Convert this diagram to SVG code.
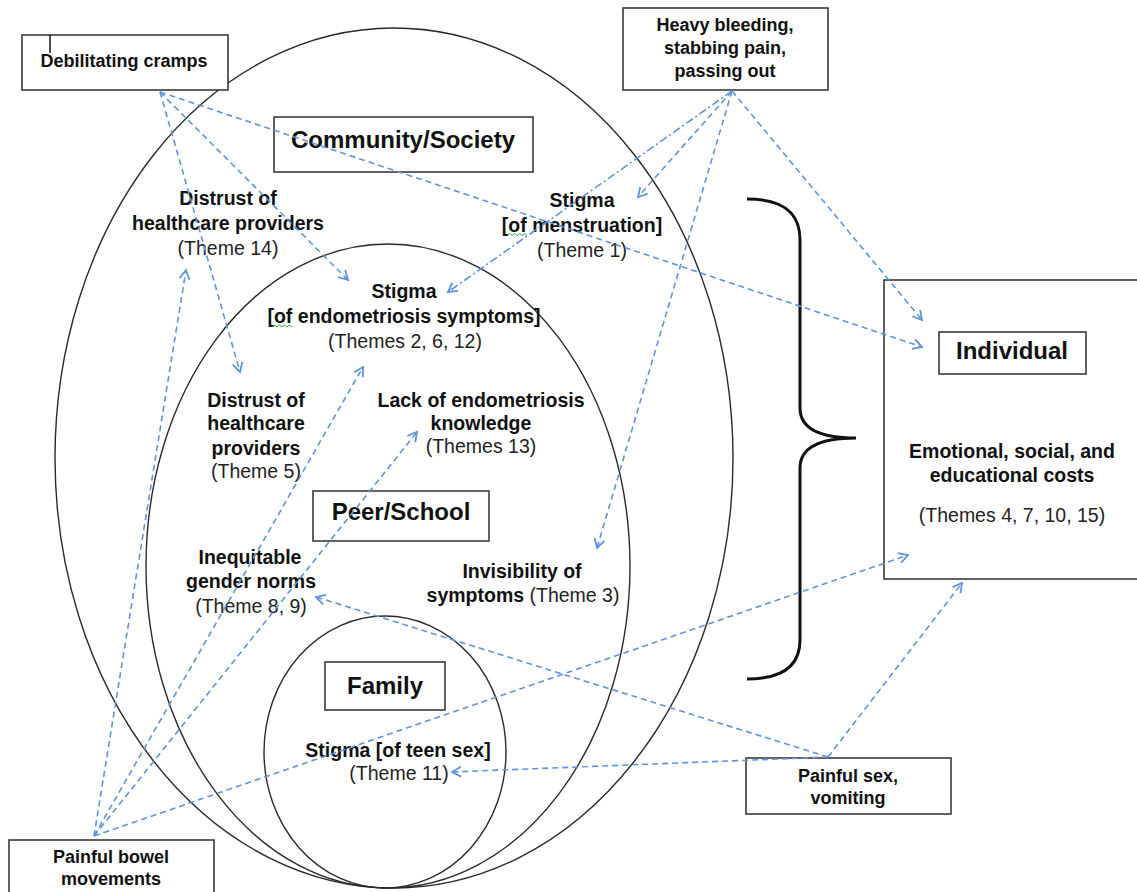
<svg xmlns="http://www.w3.org/2000/svg" width="1137" height="892" viewBox="0 0 1137 892">
<defs>
<marker id="arr" markerUnits="userSpaceOnUse" markerWidth="14" markerHeight="14" refX="10" refY="6" orient="auto">
<path d="M1,1 L10,6 L1,11" fill="none" stroke="#5f93de" stroke-width="1.8"/>
</marker>
<style>
.ell{fill:none;stroke:#2a2a2a;stroke-width:1.4}
.box{fill:#fff;stroke:#3a3a3a;stroke-width:1.6}
.b{font-family:"Liberation Sans",Arial,sans-serif;font-weight:bold;font-size:19.5px;fill:#111;text-anchor:middle}
.r{font-family:"Liberation Sans",Arial,sans-serif;font-size:19.5px;fill:#222;text-anchor:middle}
.lb{font-family:"Liberation Sans",Arial,sans-serif;font-weight:bold;font-size:18px;fill:#111;text-anchor:middle}
.h{font-family:"Liberation Sans",Arial,sans-serif;font-weight:bold;font-size:24px;fill:#111;text-anchor:middle}
.c{fill:none;stroke:#5f93de;stroke-width:1.6;stroke-dasharray:6 4;marker-end:url(#arr)}
.dd{stroke-dasharray:8 3 2 3}
.wavy{fill:none;stroke:#3aa83a;stroke-width:1}
</style>
</defs>
<rect width="1137" height="892" fill="#fff"/>

<g id="ellipses">
<ellipse id="community-ellipse" class="ell" cx="394" cy="458" rx="339" ry="430"/>
<ellipse id="peer-ellipse" class="ell" cx="388" cy="566" rx="242" ry="322"/>
<ellipse id="family-ellipse" class="ell" cx="385" cy="752" rx="121" ry="136"/>
</g>

<g id="brace">
<path d="M747,199 C785,199 800,214 800,240 L800,408 C800,428 818,438 856,438 C818,438 800,448 800,468 L800,640 C800,664 785,679 747,679" fill="none" stroke="#111" stroke-width="3"/>
</g>

<g id="individual-box">
<rect class="box" x="884" y="280" width="260" height="299"/>
</g>

<g id="debilitating-cramps">
<rect class="box" x="22" y="35" width="206" height="55"/>
<line x1="50" y1="35" x2="50" y2="53" stroke="#111" stroke-width="1.5"/>
<text class="lb" x="124" y="67">Debilitating cramps</text>
</g>

<g id="heavy-bleeding">
<rect class="box" x="623" y="8" width="205" height="82"/>
<text class="lb" x="725" y="31">Heavy bleeding,</text>
<text class="lb" x="725" y="54">stabbing pain,</text>
<text class="lb" x="725" y="77">passing out</text>
</g>

<g id="community-society">
<rect class="box" x="274" y="117" width="259" height="55"/>
<text class="h" x="403" y="148">Community/Society</text>
</g>

<g id="distrust-14">
<text class="b" x="228" y="205">Distrust of</text>
<text class="b" x="228" y="230">healthcare providers</text>
<text class="r" x="228" y="255">(Theme 14)</text>
</g>

<g id="stigma-menstruation">
<text class="b" x="582" y="207">Stigma</text>
<text class="b" x="582" y="232">[of menstruation]</text>
<path class="wavy" d="M507,235.5 l2.5,-2 l2.5,2 l2.5,-2 l2.5,2 l2.5,-2 l2.5,2 l2.5,-2 l2.5,2"/>
<text class="r" x="582" y="257">(Theme 1)</text>
</g>

<g id="stigma-endometriosis">
<text class="b" x="404" y="298">Stigma</text>
<text class="b" x="404" y="323">[of endometriosis symptoms]</text>
<path class="wavy" d="M272,327 l2.5,-2 l2.5,2 l2.5,-2 l2.5,2 l2.5,-2 l2.5,2 l2.5,-2 l2.5,2"/>
<text class="r" x="405" y="348">(Themes 2, 6, 12)</text>
</g>

<g id="distrust-5">
<text class="b" x="256" y="407">Distrust of</text>
<text class="b" x="256" y="430">healthcare</text>
<text class="b" x="256" y="455">providers</text>
<text class="r" x="256" y="478">(Theme 5)</text>
</g>

<g id="lack-knowledge">
<text class="b" x="481" y="407">Lack of endometriosis</text>
<text class="b" x="481" y="430">knowledge</text>
<text class="r" x="481" y="453">(Themes 13)</text>
</g>

<g id="peer-school">
<rect class="box" x="313" y="491" width="176" height="50"/>
<text class="h" x="401" y="520">Peer/School</text>
</g>

<g id="inequitable">
<text class="b" x="250" y="564">Inequitable</text>
<text class="b" x="251" y="588">gender norms</text>
<text class="r" x="251" y="613">(Theme 8, 9)</text>
</g>

<g id="invisibility">
<text class="b" x="522" y="578">Invisibility of</text>
<text class="b" x="523" y="602">symptoms <tspan font-weight="normal" fill="#222">(Theme 3)</tspan></text>
</g>

<g id="family">
<rect class="box" x="325" y="662" width="120" height="48"/>
<text class="h" x="385" y="694" font-size="23">Family</text>
</g>

<g id="stigma-teen-sex">
<text class="b" x="398" y="757">Stigma [of teen sex]</text>
<text class="r" x="399" y="780">(Theme 11)</text>
</g>

<g id="individual">
<rect class="box" x="939" y="332" width="147" height="42"/>
<text class="h" x="1012" y="359">Individual</text>
<text class="b" x="1012" y="458">Emotional, social, and</text>
<text class="b" x="1012" y="482">educational costs</text>
<text class="r" x="1012" y="522">(Themes 4, 7, 10, 15)</text>
</g>

<g id="painful-sex">
<rect class="box" x="746" y="758" width="205" height="56"/>
<text class="lb" x="848" y="782">Painful sex,</text>
<text class="lb" x="848" y="804">vomiting</text>
</g>

<g id="painful-bowel">
<rect class="box" x="9" y="840" width="205" height="60"/>
<text class="lb" x="111" y="863">Painful bowel</text>
<text class="lb" x="111" y="885">movements</text>
</g>

<g id="connectors">
<path class="c" d="M160,92 L240,372"/>
<path class="c" d="M160,92 L348,280"/>
<path class="c" d="M160,92 L922,347"/>
<path class="c" d="M732,91 L638,197"/>
<path class="c dd" d="M732,91 L448,292"/>
<path class="c" d="M732,91 L597,548"/>
<path class="c" d="M732,91 L922,320"/>
<path class="c" d="M94,836 L186,270"/>
<path class="c" d="M94,836 L363,367"/>
<path class="c" d="M94,836 L417,432"/>
<path class="c" d="M94,836 L908,555"/>
<path class="c" d="M828,757 L962,583"/>
<path class="c" d="M828,757 L316,597"/>
<path class="c" d="M828,757 L452,772"/>
</g>
</svg>
